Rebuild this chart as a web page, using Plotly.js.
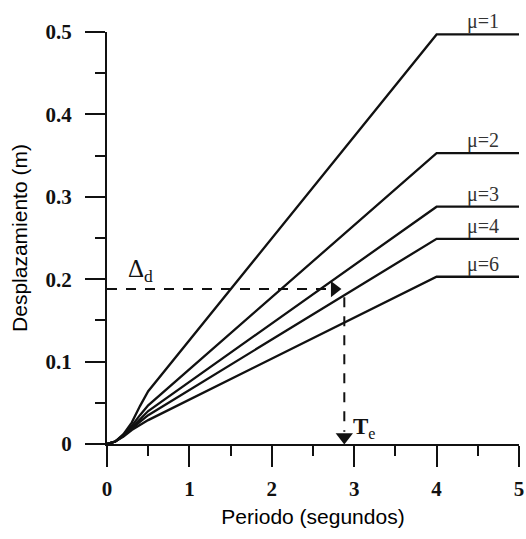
<!DOCTYPE html>
<html><head><meta charset="utf-8">
<script src="https://cdn.plot.ly/plotly-3.0.1.min.js"></script>
<style>html,body{margin:0;padding:0;background:#fff}#chart{width:526px;height:539px}</style>
</head><body><div id="chart"></div>
<script>
// Period values (s)
const periods = [0, 0.1, 0.2, 0.3, 0.4, 0.5, 4, 5];
// Displacement (m) for each ductility
const mu1 = [0, 0.003, 0.012, 0.026, 0.046, 0.064, 0.497, 0.497];
const mu2 = [0, 0.003, 0.011, 0.022, 0.035, 0.047, 0.353, 0.353];
const mu3 = [0, 0.003, 0.010, 0.020, 0.030, 0.040, 0.288, 0.288];
const mu4 = [0, 0.003, 0.010, 0.019, 0.027, 0.035, 0.249, 0.249];
const mu6 = [0, 0.003, 0.009, 0.017, 0.023, 0.029, 0.203, 0.203];
const seriesLabels = ["μ=1", "μ=2", "μ=3", "μ=4", "μ=6"];
const seriesData = [mu1, mu2, mu3, mu4, mu6];
// Design point
const deltaD = 0.188;
const Te = 2.88;
const xTicks = [0, 1, 2, 3, 4, 5];
const yTicks = [0, 0.1, 0.2, 0.3, 0.4, 0.5];

const ink = '#111';
const traces = seriesData.map((d, i) => ({
  x: periods, y: d, type: 'scatter', mode: 'lines',
  line: {color: ink, width: 2.3}, hoverinfo: 'skip', cliponaxis: false, showlegend: false
}));
// dashed guide lines
traces.push({x: [0, Te - 0.17], y: [deltaD, deltaD], mode: 'lines', type: 'scatter',
  line: {color: ink, width: 2, dash: '10px,9px'}, showlegend: false, cliponaxis: false});
traces.push({x: [Te, Te], y: [deltaD - 0.01, 0.015], mode: 'lines', type: 'scatter',
  line: {color: ink, width: 2, dash: '10px,9px'}, showlegend: false, cliponaxis: false});
// arrow heads
traces.push({x: [Te - 0.12], y: [deltaD], mode: 'markers', type: 'scatter',
  marker: {symbol: 'triangle-right', size: 14, color: ink}, showlegend: false, cliponaxis: false});
traces.push({x: [Te], y: [0.0085], mode: 'markers', type: 'scatter',
  marker: {symbol: 'triangle-down', size: 15, color: ink}, showlegend: false, cliponaxis: false});

const serif = 'Liberation Serif, Times New Roman, serif';
const annotations = seriesData.map((d, i) => ({
  x: 4.56, y: d[d.length - 1], xref: 'x', yref: 'y', text: seriesLabels[i],
  showarrow: false, yanchor: 'bottom', yshift: 0, borderpad: 0,
  font: {family: serif, size: 20, color: '#333'}
}));
annotations.push({x: 0.41, y: deltaD, xref: 'x', yref: 'y', text: 'Δ<sub>d</sub>', showarrow: false,
  yanchor: 'bottom', yshift: 2, borderpad: 0, font: {family: serif, size: 25, color: ink}});
annotations.push({x: 3.13, y: 0.02, xref: 'x', yref: 'y', text: '<b>T</b><sub>e</sub>', showarrow: false,
  font: {family: serif, size: 23, color: ink}});

const layout = {
  width: 526, height: 539,
  margin: {l: 107, r: 7, t: 32, b: 95},
  paper_bgcolor: '#fff', plot_bgcolor: '#fff',
  showlegend: false,
  xaxis: {
    range: [0, 5], tickvals: xTicks, ticktext: xTicks.map(String),
    showgrid: false, zeroline: false, showline: true, linecolor: ink, linewidth: 2,
    ticks: 'outside', ticklen: 21, tickwidth: 2, tickcolor: ink,
    ticklabelstandoff: 4,
    minor: {dtick: 0.5, ticks: 'outside', ticklen: 10, tickwidth: 2, tickcolor: ink, showgrid: false},
    tickfont: {family: serif, size: 21, color: ink, weight: 'bold'},
    title: {text: 'Periodo (segundos)', standoff: 9, font: {family: 'Liberation Sans, Arial, sans-serif', size: 21, color: '#000'}}
  },
  yaxis: {
    range: [0, 0.5], tickvals: yTicks, ticktext: ['0', '0.1', '0.2', '0.3', '0.4', '0.5'],
    showgrid: false, zeroline: false, showline: true, linecolor: ink, linewidth: 2,
    ticks: 'outside', ticklen: 20, tickwidth: 2, tickcolor: ink,
    ticklabelstandoff: 9,
    minor: {dtick: 0.05, ticks: 'outside', ticklen: 10, tickwidth: 2, tickcolor: ink, showgrid: false},
    tickfont: {family: serif, size: 21, color: ink, weight: 'bold'},
    title: {text: 'Desplazamiento (m)', standoff: 12, font: {family: 'Liberation Sans, Arial, sans-serif', size: 21, color: '#000'}}
  },
  annotations: annotations
};
Plotly.newPlot('chart', traces, layout, {staticPlot: true, displayModeBar: false});
</script></body></html>
